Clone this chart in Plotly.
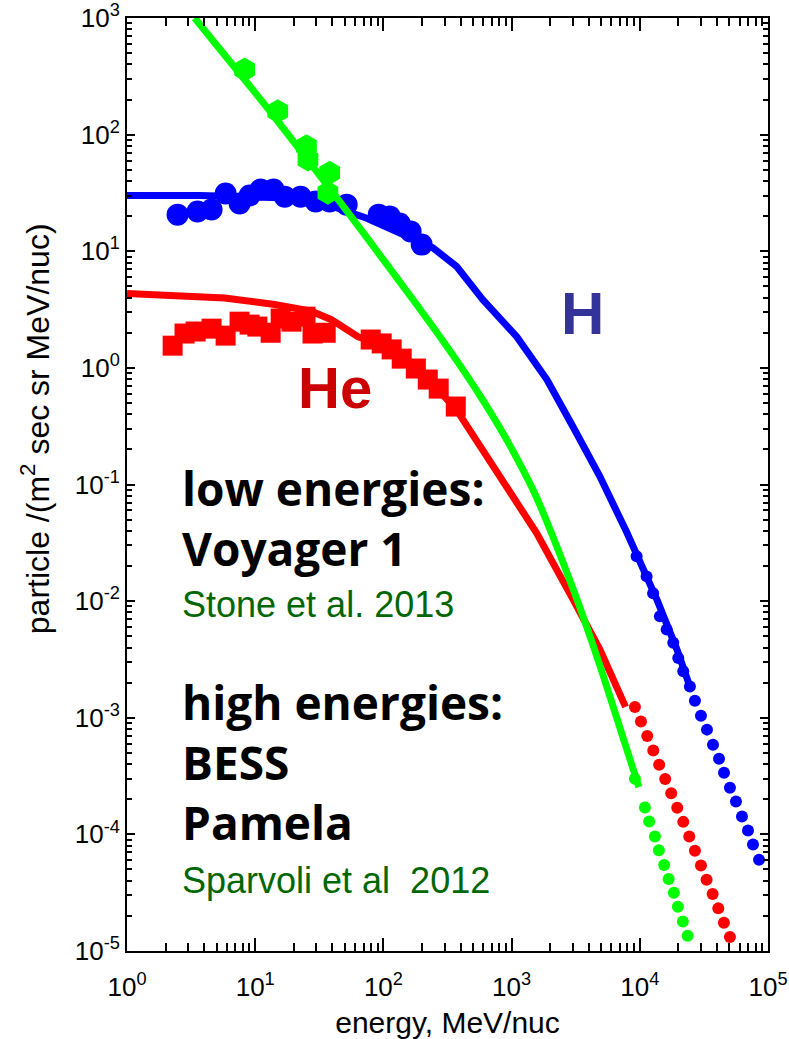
import plotly.graph_objects as go

# ---------------- data ----------------
# model curves (solid lines)
H_model_E = [1, 3.68, 15.5, 38.1, 71.4, 243, 373, 595, 1097, 1884, 3006, 4887, 7925, 10020, 13600, 19500, 24600]
H_model_F = [30.1, 30.1, 28.8, 24.7, 19.5, 10.7, 7.40, 3.85, 1.85, 0.794, 0.314, 0.117, 0.0387, 0.0217, 0.0103, 3.84e-3, 1.85e-3]

He_model_E = [1, 5.77, 14.2, 27.4, 39.3, 63.4, 112, 192, 371, 565, 912, 1563, 3020, 4887, 7745]
He_model_F = [4.34, 3.98, 3.49, 3.06, 2.59, 1.85, 1.52, 0.966, 0.439, 0.213, 0.0966, 0.0385, 0.0103, 3.84e-3, 1.24e-3]

G_model_E = [3.37, 8.02, 13.7, 40.5, 69.3, 126, 230, 372, 565, 859, 1230, 1563, 3020, 4325, 5508, 9840]
G_model_F = [1000, 309, 148, 31.6, 14.5, 6.01, 2.45, 1.16, 0.582, 0.274, 0.133, 0.0778, 0.0127, 4.17e-3, 1.87e-3, 2.54e-4]

# Voyager 1 data (low energies)
H_v1_E = [2.48, 3.55, 4.57, 5.88, 7.56, 9.04, 11.0, 13.9, 17.0, 22.6, 29.6, 38.1, 51.7, 91.9, 112, 134, 163, 199]
H_v1_F = [20.6, 21.9, 22.8, 31.3, 25.7, 30.0, 33.8, 33.8, 29.4, 29.4, 26.7, 26.7, 25.1, 20.6, 19.9, 17.3, 14.8, 11.4]

He_v1_E = [2.27, 2.81, 3.43, 4.57, 5.88, 7.55, 9.04, 10.4, 13.2, 15.8, 19.2, 24.7, 28.0, 35.5, 79.6, 97.0, 116, 139, 179, 222, 270, 367]
He_v1_F = [1.55, 1.97, 2.05, 2.17, 1.89, 2.49, 2.35, 2.26, 2.00, 2.65, 2.49, 2.75, 1.97, 2.00, 1.75, 1.62, 1.44, 1.20, 0.987, 0.794, 0.664, 0.466]

G_v1_E = [8.27, 15.0, 25.1, 25.8, 38.1, 36.9]
G_v1_F = [362, 159, 79.6, 61.2, 47.0, 31.7]

# BESS / Pamela data (high energies, dotted)
H_hi_E = [9440, 11300, 12700, 14350, 16200, 18240, 19950, 21830, 24600, 26920, 29990, 33420, 37240,
          41500, 45390, 50470, 56230, 62660, 69820, 76380, 85110]
H_hi_F = [0.0242, 0.0163, 0.0117, 7.41e-3, 5.70e-3, 4.39e-3, 3.26e-3, 2.50e-3, 1.85e-3, 1.40e-3, 1.04e-3, 7.91e-4, 5.87e-4,
          4.46e-4, 3.38e-4, 2.51e-4, 1.91e-4, 1.42e-4, 1.08e-4, 8.17e-5, 6.07e-5]

He_hi_E = [9162, 10210, 11430, 12740, 14160, 15780, 17580, 19590, 21830, 24320, 26920, 29990, 33190, 36980, 40930, 45290, 50470]
He_hi_F = [1.239e-3, 9.27e-4, 6.98e-4, 5.25e-4, 3.96e-4, 2.99e-4, 2.25e-4, 1.69e-4, 1.28e-4, 9.6e-5, 7.24e-5, 5.42e-5,
           4.08e-5, 3.08e-5, 2.32e-5, 1.75e-5, 1.32e-5]

G_hi_E = [9160, 10965, 11830, 13120, 14090, 15490, 16790, 18450, 19820, 21680, 23600]
G_hi_F = [3.0e-4, 1.70e-4, 1.29e-4, 9.6e-5, 7.3e-5, 5.47e-5, 4.15e-5, 3.16e-5, 2.40e-5, 1.79e-5, 1.35e-5]

x_tick_vals = [1, 10, 100, 1000, 10000, 100000]
x_tick_text = ["10<sup>0</sup>", "10<sup>1</sup>", "10<sup>2</sup>", "10<sup>3</sup>", "10<sup>4</sup>", "10<sup>5</sup>"]
y_tick_vals = [1e-5, 1e-4, 1e-3, 1e-2, 1e-1, 1, 10, 100, 1000]
y_tick_text = ["10<sup>-5</sup>", "10<sup>-4</sup>", "10<sup>-3</sup>", "10<sup>-2</sup>", "10<sup>-1</sup>",
               "10<sup>0</sup>", "10<sup>1</sup>", "10<sup>2</sup>", "10<sup>3</sup>"]

BLUE = "#0000ff"
RED = "#ff0000"
GREEN = "#00ff00"

fig = go.Figure()

# H
fig.add_trace(go.Scatter(x=H_model_E, y=H_model_F, mode="lines", line=dict(color=BLUE, width=7)))
fig.add_trace(go.Scatter(x=H_v1_E, y=H_v1_F, mode="markers",
                         marker=dict(symbol="circle", size=22, color=BLUE, line=dict(width=0))))
# He
fig.add_trace(go.Scatter(x=He_model_E, y=He_model_F, mode="lines", line=dict(color=RED, width=7)))
fig.add_trace(go.Scatter(x=He_v1_E, y=He_v1_F, mode="markers",
                         marker=dict(symbol="square", size=20, color=RED, line=dict(width=0))))
# green
fig.add_trace(go.Scatter(x=G_model_E, y=G_model_F, mode="lines", line=dict(color=GREEN, width=7, shape="spline", smoothing=0.8)))
fig.add_trace(go.Scatter(x=G_v1_E, y=G_v1_F, mode="markers",
                         marker=dict(symbol="hexagon", size=24, color=GREEN, line=dict(width=0))))
# high-energy dotted data
for xs, ys, c in [(H_hi_E, H_hi_F, BLUE), (He_hi_E, He_hi_F, RED), (G_hi_E, G_hi_F, GREEN)]:
    fig.add_trace(go.Scatter(x=xs, y=ys, mode="markers",
                             marker=dict(symbol="circle", size=12, color=c, line=dict(width=0))))

x_minor = [m * 10 ** d for d in range(5) for m in range(2, 10)]
y_minor = [m * 10.0 ** d for d in range(-5, 3) for m in range(2, 10)]

SANS = "Liberation Sans, Arial, sans-serif"
TICKFONT = dict(family=SANS, size=26, color="black")

fig.update_xaxes(type="log", range=[0, 5], showgrid=False, zeroline=False, automargin=False,
                 showline=True, linecolor="black", linewidth=2, mirror="ticks",
                 ticks="inside", ticklen=13, tickwidth=2, tickcolor="black", ticklabelstandoff=12,
                 tickmode="array", tickvals=x_tick_vals, ticktext=x_tick_text, tickfont=TICKFONT,
                 minor=dict(tickmode="array", tickvals=x_minor, ticks="inside", ticklen=8, tickwidth=1.5, tickcolor="black"),
                 title=dict(text="energy, MeV/nuc", font=dict(family=SANS, size=30, color="black"),
                            standoff=20))
fig.update_yaxes(type="log", range=[-5, 3], showgrid=False, zeroline=False, automargin=False,
                 showline=True, linecolor="black", linewidth=2, mirror="ticks",
                 ticks="inside", ticklen=8, tickwidth=2, tickcolor="black",
                 tickmode="array", tickvals=y_tick_vals, ticktext=y_tick_text, tickfont=TICKFONT,
                 minor=dict(tickmode="array", tickvals=y_minor, ticks="inside", ticklen=5, tickwidth=1.5, tickcolor="black"))

BLACKFONT = dict(family="Open Sans, DejaVu Sans, sans-serif", size=46, color="black")
GREENFONT = dict(family=SANS, size=36, color="#006600")

annotations = [
    dict(x=0.41, y=-1.29, text="<b>low energies:</b><br><b>Voyager 1</b>", font=BLACKFONT),
    dict(x=0.41, y=-2.030, text="Stone et al. 2013", font=GREENFONT),
    dict(x=0.41, y=-3.38, text="<b>high energies:</b><br><b>BESS</b><br><b>Pamela</b>", font=BLACKFONT),
    dict(x=0.41, y=-4.397, text="Sparvoli et al\u00a0 2012", font=GREENFONT),
]
for a in annotations:
    a.update(xref="x", yref="y", showarrow=False, xanchor="left", yanchor="middle", align="left")

annotations.append(dict(x=1.620, y=-0.169, xref="x", yref="y", text="<b>He</b>", showarrow=False,
                        xanchor="center", yanchor="middle",
                        font=dict(family=SANS, size=58, color="#cc0000")))
annotations.append(dict(x=3.556, y=0.466, xref="x", yref="y", text="<b>H</b>", showarrow=False,
                        xanchor="center", yanchor="middle",
                        font=dict(family=SANS, size=60, color="#333399")))
# y-axis title (placed as rotated text, as in the reference)
annotations.append(dict(x=-0.144, y=0.56, xref="paper", yref="paper", xanchor="center", yanchor="middle",
                        text="particle /(m<sup>2</sup> sec sr MeV/nuc)", textangle=-90, showarrow=False,
                        font=dict(family=SANS, size=32, color="black")))

fig.update_layout(width=789, height=1039, margin=dict(l=127, r=21, t=18, b=88),
                  paper_bgcolor="white", plot_bgcolor="white", showlegend=False,
                  annotations=annotations)

fig.write_html("out.html")
